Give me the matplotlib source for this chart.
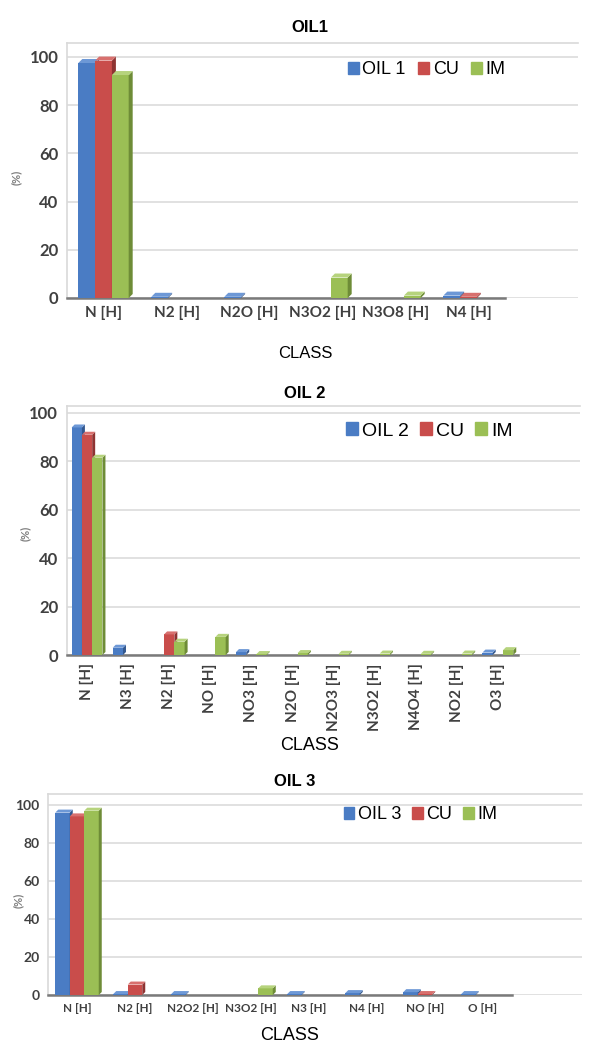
import matplotlib
matplotlib.use("Agg")
import matplotlib.pyplot as plt
from matplotlib.patches import Polygon, Patch
import numpy as np

# ---------------- data ----------------
series_names = ["CU", "IM"]

oil1_classes = ["N [H]", "N2 [H]", "N2O [H]", "N3O2 [H]", "N3O8 [H]", "N4 [H]"]
oil1_oil = [97.5, 0.5, 0.5, 0, 0, 1.0]
oil1_cu = [98.5, 0, 0, 0, 0, 0.5]
oil1_im = [92.5, 0, 0, 8.5, 1.0, 0]

oil2_classes = ["N [H]", "N3 [H]", "N2 [H]", "NO [H]", "NO3 [H]", "N2O [H]",
                "N2O3 [H]", "N3O2 [H]", "N4O4 [H]", "NO2 [H]", "O3 [H]"]
oil2_oil = [94, 3, 0, 0, 1.2, 0, 0, 0, 0, 0, 1.0]
oil2_cu = [91, 0, 8.5, 0, 0, 0, 0, 0, 0, 0, 0]
oil2_im = [81.5, 0, 5.5, 7.5, 0.4, 0.8, 0.5, 0.6, 0.5, 0.6, 2.0]

oil3_classes = ["N [H]", "N2 [H]", "N2O2 [H]", "N3O2 [H]", "N3 [H]", "N4 [H]", "NO [H]", "O [H]"]
oil3_oil = [96, 0.5, 0.5, 0, 0.5, 1.0, 1.5, 0.5]
oil3_cu = [94, 5.5, 0, 0, 0, 0, 0.5, 0]
oil3_im = [97, 0, 0, 3.5, 0, 0, 0, 0]

yticks = [0, 20, 40, 60, 80, 100]

# ---------------- style ----------------
W, H = 596, 1043
fig = plt.figure(figsize=(W / 100, H / 100), dpi=100)

COLORS = {
    "blue": ("#4a7cc4", "#33588f", "#6d98d6"),
    "red": ("#c94d4b", "#8e3332", "#d8706e"),
    "green": ("#9bbf55", "#6e8c37", "#b6d37d"),
}
TICK_FONT = ["Lato", "DejaVu Sans"]
TEXT_FONT = ["Liberation Sans", "DejaVu Sans"]


def draw_bars(ax, values, offset, width, cols, depth_px=4):
    front, side, top = cols
    bb = ax.get_position()
    xl = ax.get_xlim()
    yl = ax.get_ylim()
    pxx = bb.width * W / (xl[1] - xl[0])
    pxy = bb.height * H / (yl[1] - yl[0])
    dx = depth_px / pxx
    dy = depth_px / pxy
    x = np.arange(len(values)) + offset
    for xi, v in zip(x, values):
        if v <= 0:
            continue
        x0, x1 = xi - width / 2, xi + width / 2
        ax.bar(xi, v, width=width, color=front, zorder=3, linewidth=0)
        ax.add_patch(Polygon([(x1, 0), (x1 + dx, dy), (x1 + dx, v + dy), (x1, v)],
                             closed=True, facecolor=side, edgecolor="none", zorder=3))
        ax.add_patch(Polygon([(x0, v), (x1, v), (x1 + dx, v + dy), (x0 + dx, v + dy)],
                             closed=True, facecolor=top, edgecolor="none", zorder=3))


def make_panel(rect, classes, oil, cu, im, oil_label, xlim, ylim, ncat, tick_fs, xtick_fs,
               rot, title, title_xy, title_fs, class_xy, class_fs, ylab_xy, leg_anchor, leg_fs,
               width, depth, colspace):
    ax = fig.add_axes(rect)
    ax.set_xlim(*xlim)
    ax.set_ylim(*ylim)
    ax.set_yticks(yticks)
    ax.set_yticklabels([str(t) for t in yticks], fontsize=tick_fs, family=TICK_FONT,
                       fontweight="bold", color="#404040")
    ax.set_xticks(range(ncat))
    ax.set_xticklabels(classes, rotation=90 if rot else 0, fontsize=xtick_fs, family=TICK_FONT,
                       fontweight="bold", color="#404040")
    ax.tick_params(axis="both", length=0, pad=6)
    ax.grid(axis="y", color="#dcdcdc", linewidth=1.2, zorder=0)
    ax.set_axisbelow(True)
    for s in ["top", "left"]:
        ax.spines[s].set_color("#d9d9d9")
        ax.spines[s].set_linewidth(1.2)
    ax.spines["right"].set_visible(False)
    ax.spines["bottom"].set_color("#7a7a7a")
    ax.spines["bottom"].set_linewidth(1.8)
    ax.spines["bottom"].set_bounds(-0.5, ncat - 0.5)

    draw_bars(ax, oil, -width, width, COLORS["blue"], depth)
    draw_bars(ax, cu, 0, width, COLORS["red"], depth)
    draw_bars(ax, im, width, width, COLORS["green"], depth)

    handles = [Patch(color=COLORS["blue"][0]), Patch(color=COLORS["red"][0]),
               Patch(color=COLORS["green"][0])]
    ax.legend(handles, [oil_label] + series_names, ncol=3, loc="upper right",
              bbox_to_anchor=(leg_anchor[0] / W, 1 - leg_anchor[1] / H),
              bbox_transform=fig.transFigure, frameon=False,
              handlelength=0.6, handleheight=0.6, handletextpad=0.2, columnspacing=colspace,
              prop={"family": TEXT_FONT, "size": leg_fs})

    fig.text(title_xy[0] / W, 1 - title_xy[1] / H, title, ha="center", va="center",
             fontsize=title_fs, fontweight="bold", family=TEXT_FONT)
    fig.text(class_xy[0] / W, 1 - class_xy[1] / H, "CLASS", ha="center", va="center",
             fontsize=class_fs, family=TEXT_FONT)
    fig.text(ylab_xy[0] / W, 1 - ylab_xy[1] / H, "(%)", ha="center", va="center",
             rotation=90, fontsize=8, color="#7f7f7f", family=TICK_FONT, fontweight="bold")
    return ax


# Panel 1
make_panel([67 / W, 1 - 298 / H, 511 / W, 255.5 / H], oil1_classes, oil1_oil, oil1_cu,
           oil1_im, "OIL 1", (-0.5, 6.5), (0, 106), len(oil1_classes), 12, 11, False,
           "OIL1", (310, 27), 12, (305, 354), 12, (16, 177), (522, 45), 13, 0.23, 4, 0.7)

# Panel 2
make_panel([66.5 / W, 1 - 655 / H, 513.5 / W, 249.3 / H], oil2_classes, oil2_oil, oil2_cu,
           oil2_im, "OIL 2", (-0.5, 12.0), (0, 103), len(oil2_classes), 12, 11, True,
           "OIL 2", (305, 393), 12, (310, 745), 13, (25, 533), (530, 405), 14, 0.25, 3, 0.6)

# Panel 3
make_panel([48 / W, 1 - 995 / H, 533.6 / W, 201.4 / H], oil3_classes, oil3_oil, oil3_cu,
           oil3_im, "OIL 3", (-0.5, 8.7), (0, 106), len(oil3_classes), 10, 8.5, False,
           "OIL 3", (295, 782), 12, (290, 1035), 13, (18, 900), (514, 790), 13, 0.25, 3, 0.6)

fig.savefig("out.png", dpi=100, facecolor="white")
